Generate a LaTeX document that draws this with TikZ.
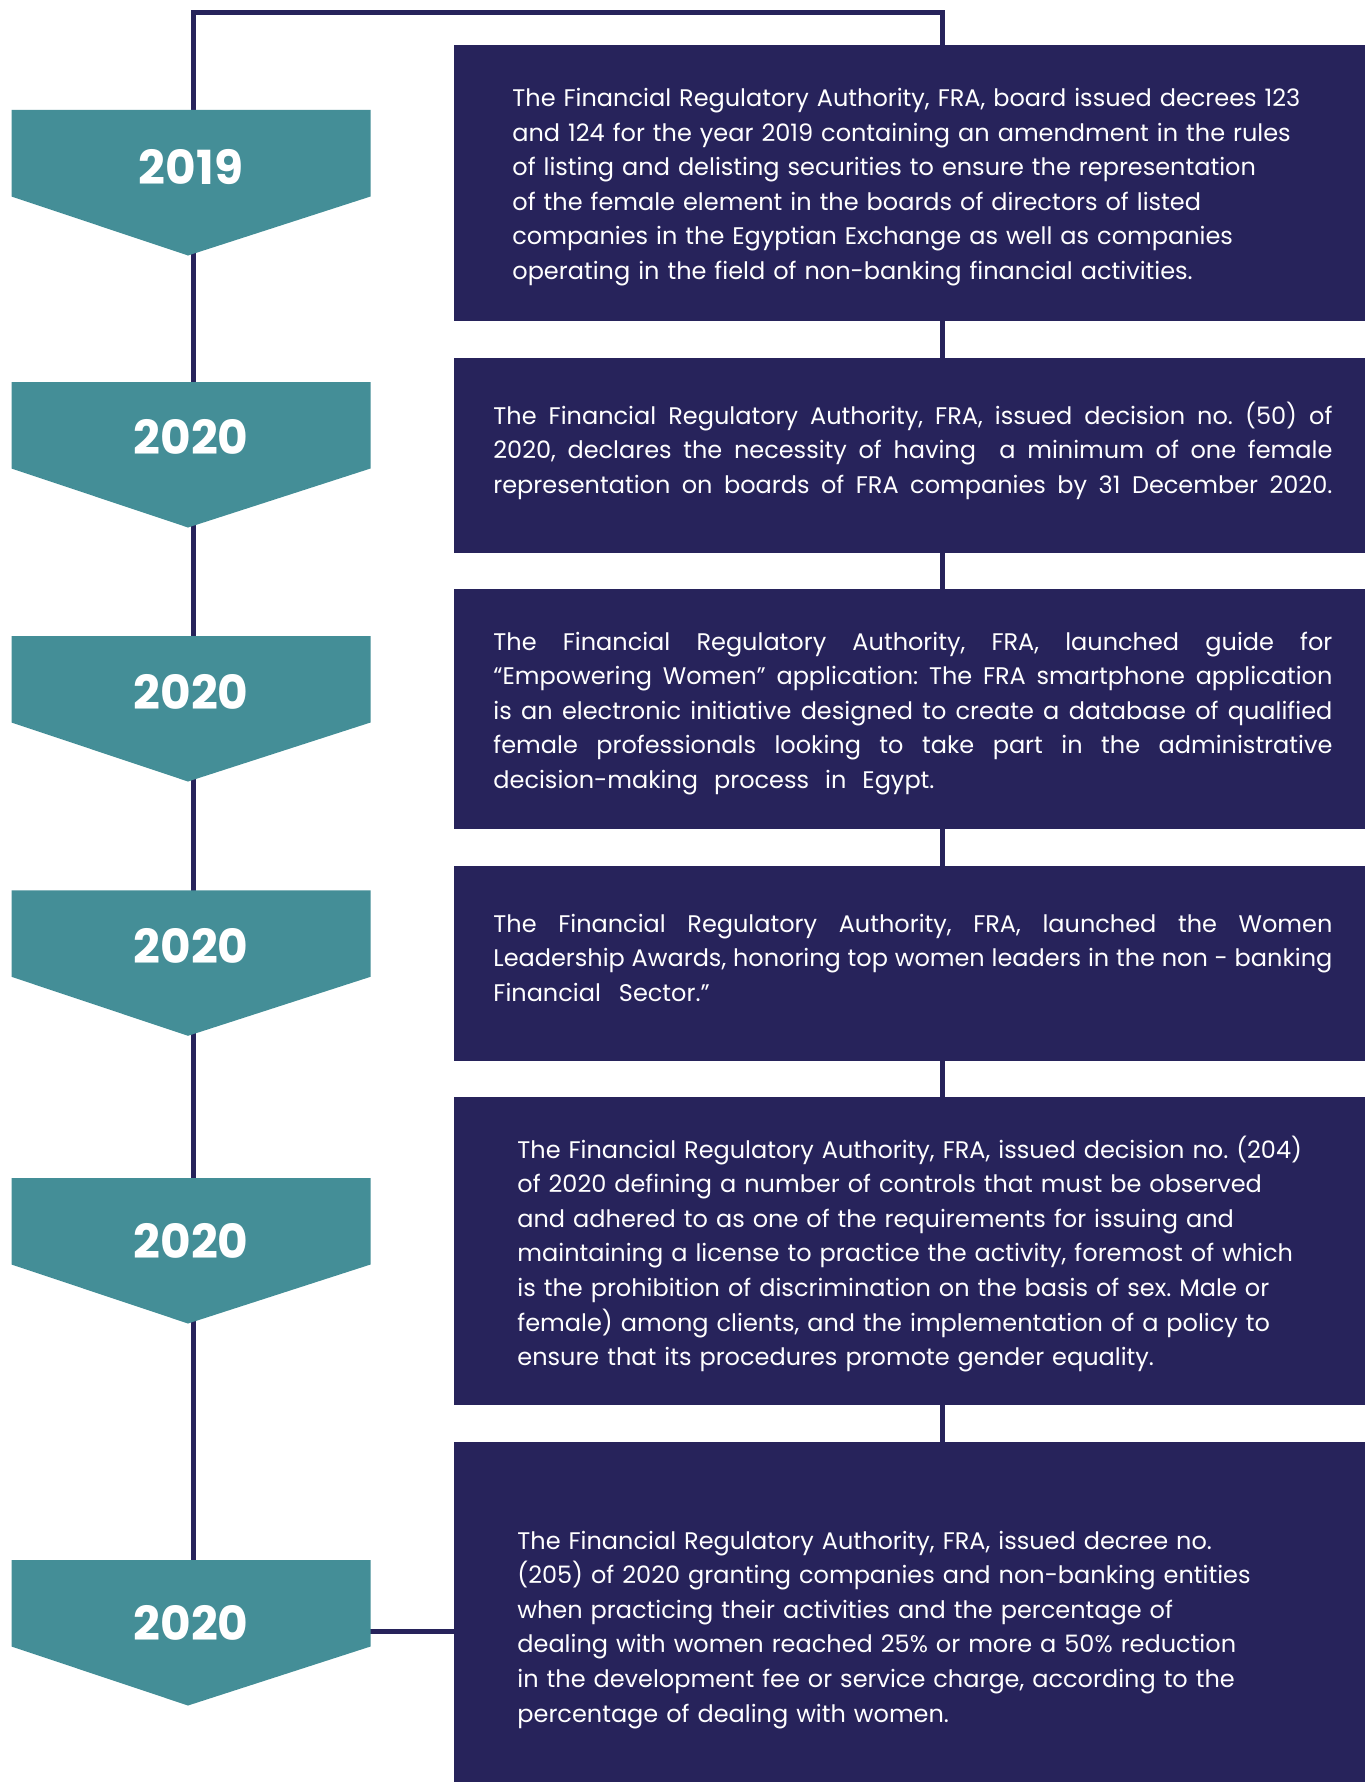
\documentclass[tikz,border=0pt]{standalone}
\usepackage{fontspec}
\setmainfont{Poppins}
\usetikzlibrary{fit}
\definecolor{navy}{HTML}{27235B}
\definecolor{teal}{HTML}{448E97}
\frenchspacing
\tikzset{
  box/.style={fill=navy, draw=none, inner sep=0pt, outer sep=0pt},
  chev/.style={fill=teal, draw=none},
  year/.style={text=white, font=\fontsize{23.5}{28}\selectfont\bfseries, inner sep=0pt},
  txt/.style={font=\fontsize{12}{17.3}\selectfont},
  body/.style={txt, text=white, inner sep=0pt, anchor=base west, align=left, text width=430pt},
  jbody/.style={txt, text=white, inner sep=0pt, anchor=base west, align=justify, text width=419.5pt},
  tl/.style={draw=navy, line width=2.5pt},
}
\newcommand{\chevron}[1]{% top
  \fill[chev] (11.5,#1) -- (370.5,#1) -- (370.5,#1+86.5) -- (188,#1+145.5) -- (11.5,#1+86.5) -- cycle;
}
\begin{document}
\begin{tikzpicture}[x=0.5pt,y=-0.5pt]
\fill[white] (0,0) rectangle (1365,1782);
\useasboundingbox (0,0) rectangle (1365,1782);
% timeline frame
\coordinate (lb) at (193,1560);
\coordinate (lt) at (193,12.5);
\coordinate (rt) at (942,12.5);
\coordinate (rb) at (942,1442);
\draw[tl, line join=miter] (lb) -- (lt) -- (rt) -- (rb);
% connector to last box
\coordinate (c6r) at (370,1631);
\coordinate (b6l) at (455,1631);
\draw[tl] (c6r) -- (b6l);
% boxes
\node[box, fit={(454,45) (1365,320.5)}] (b1) {};
\node[box, fit={(454,357.7) (1365,552.7)}] (b2) {};
\node[box, fit={(454,588.7) (1365,829)}] (b3) {};
\node[box, fit={(454,866) (1365,1060.8)}] (b4) {};
\node[box, fit={(454,1097) (1365,1404.7)}] (b5) {};
\node[box, fit={(454,1442) (1365,1782)}] (b6) {};
% chevrons
\chevron{110}
\chevron{382}
\chevron{636}
\chevron{890.3}
\chevron{1178}
\chevron{1560}
\node[year] (y1) at (191,167) {2019};
\node[year] (y2) at (191,437) {2020};
\node[year] (y3) at (191,692) {2020};
\node[year] (y4) at (191,946) {2020};
\node[year] (y5) at (191,1241) {2020};
\node[year] (y6) at (191,1623) {2020};
% texts
\node[body] (t1) at (512,106.5) {The Financial Regulatory Authority, FRA, board issued decrees 123\\
and 124 for the year 2019 containing an amendment in the rules\\
of listing and delisting securities to ensure the representation\\
of the female element in the boards of directors of listed\\
companies in the Egyptian Exchange as well as companies\\
operating in the field of non-banking financial activities.};
\node[jbody] (t2) at (493,424) {The Financial Regulatory Authority, FRA, issued decision no. (50) of\linebreak
2020, declares the necessity of having\ \ a minimum of one female\linebreak
\makebox[\linewidth][s]{representation on boards of FRA companies by 31 December 2020.}};
\node[jbody] (t3) at (493,650) {The Financial Regulatory Authority, FRA, launched guide for\linebreak
“Empowering Women” application: The FRA smartphone application\linebreak
is an electronic initiative designed to create a database of qualified\linebreak
female professionals looking to take part in the administrative\linebreak
decision-making\hspace{8pt}process\hspace{8pt}in\hspace{8pt}Egypt.};
\node[jbody] (t4) at (493,932) {The Financial Regulatory Authority, FRA, launched the Women\linebreak
Leadership Awards, honoring top women leaders in the non - banking\linebreak
Financial\hspace{9pt}Sector.”};
\node[body] (t5) at (517,1158) {The Financial Regulatory Authority, FRA, issued decision no. (204)\\
of 2020 defining a number of controls that must be observed\\
and adhered to as one of the requirements for issuing and\\
maintaining a license to practice the activity, foremost of which\\
is the prohibition of discrimination on the basis of sex. Male or\\
female) among clients, and the implementation of a policy to\\
ensure that its procedures promote gender equality.};
\node[body] (t6) at (517,1549) {The Financial Regulatory Authority, FRA, issued decree no.\\
(205) of 2020 granting companies and non-banking entities\\
when practicing their activities and the percentage of\\
dealing with women reached 25\% or more a 50\% reduction\\
in the development fee or service charge, according to the\\
percentage of dealing with women.};
\end{tikzpicture}
\end{document}
